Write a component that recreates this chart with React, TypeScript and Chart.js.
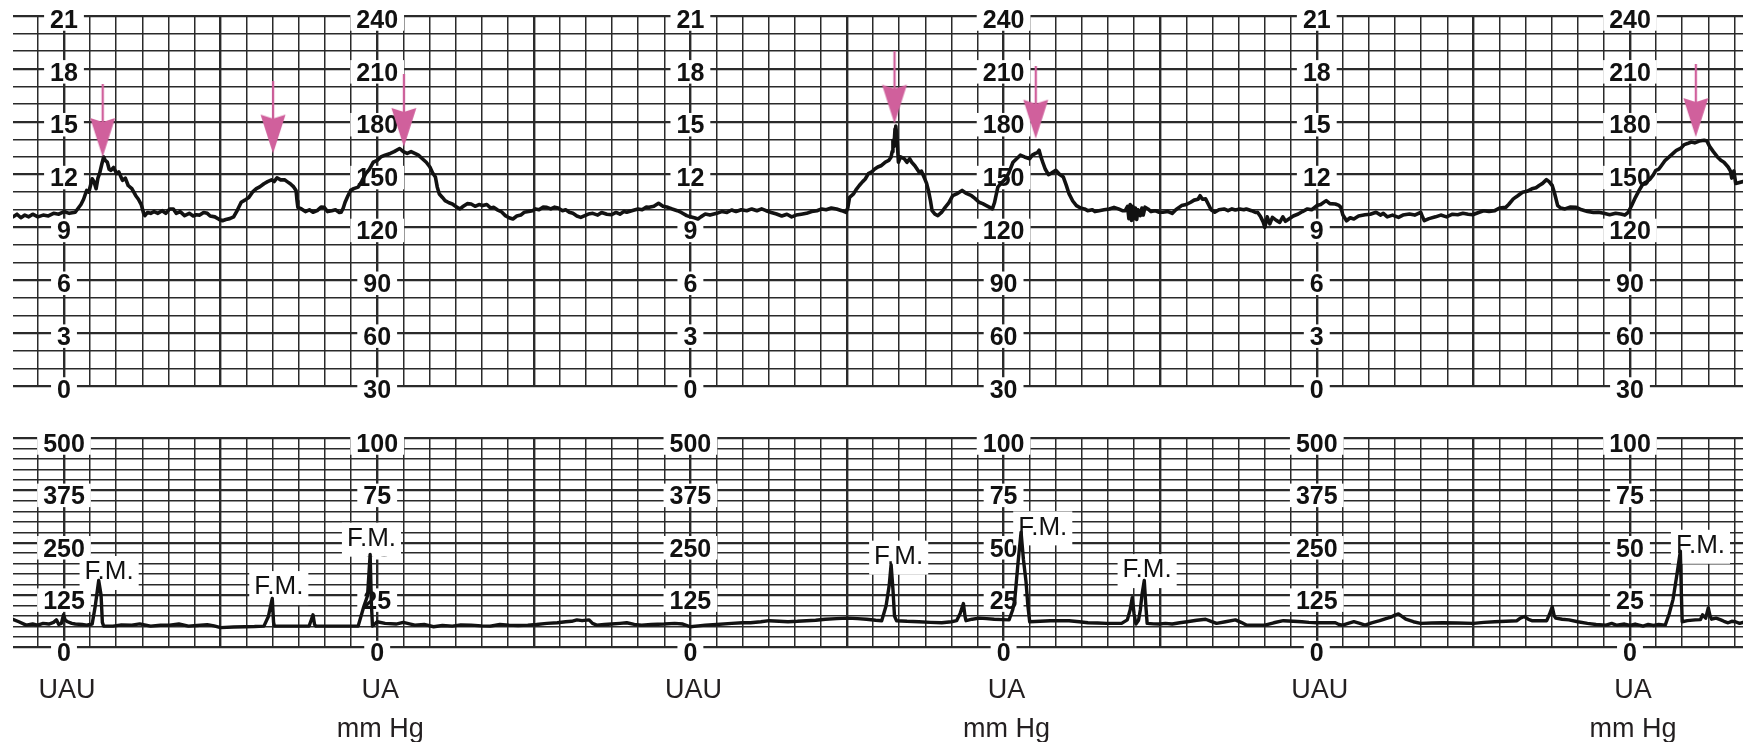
import React, { useEffect, useRef } from 'react';
import { Chart, registerables } from 'chart.js';

Chart.register(...registerables);

// ---- horizontal extent (chart paper squares) ----
const X_MIN = -1.954;
const X_MAX = 64.33;
const AXIS_COLUMNS = [0, 12, 24, 36, 48, 60];

// ---- tick labels ----
const FHR_TICK_VALUES = [240, 210, 180, 150, 120, 90, 60, 30];
const FHR_LABELS_A = ['21', '18', '15', '12', '9', '6', '3', '0'];
const FHR_LABELS_B = ['240', '210', '180', '150', '120', '90', '60', '30'];
const UA_TICK_VALUES = [100, 75, 50, 25, 0];
const UA_LABELS_A = ['500', '375', '250', '125', '0'];
const UA_LABELS_B = ['100', '75', '50', '25', '0'];
const FOOT_LABEL_A = 'UAU';
const FOOT_LABEL_B = 'UA';
const FOOT_UNIT_B = 'mm Hg';
const FM_TEXT = 'F.M.';

// ---- fetal heart rate trace ----
const FHR_X = [
  -1.95, -1.8, -1.65, -1.5, -1.35, -1.2, -1.0, -0.8, -0.6, -0.4, -0.2, 0, 0.2, 0.43, 0.55, 0.65, 0.75, 0.87, 0.95, 1.08,
  1.15, 1.23, 1.3, 1.37, 1.45, 1.52, 1.58, 1.66, 1.73, 1.8, 1.9, 2.02, 2.1, 2.24, 2.35, 2.46, 2.6, 2.75, 2.85, 2.96,
  3.05, 3.1, 3.2, 3.32, 3.45, 3.6, 3.76, 3.9, 4.05, 4.19, 4.3, 4.45, 4.62, 4.8, 4.95, 5.06, 5.2, 5.35, 5.49, 5.6,
  5.78, 5.95, 6.07, 6.2, 6.35, 6.5, 6.65, 6.79, 6.93, 7.08, 7.22, 7.37, 7.5, 7.66, 7.8, 7.95, 8.05, 8.16, 8.3, 8.45,
  8.55, 8.67, 8.8, 8.89, 8.93, 8.96, 9.1, 9.25, 9.4, 9.54, 9.7, 9.85, 9.97, 10.1, 10.26, 10.4, 10.55, 10.62, 10.7, 10.77,
  10.88, 10.98, 11.1, 11.27, 11.4, 11.56, 11.7, 11.85, 12.0, 12.14, 12.3, 12.5, 12.65, 12.86, 13.0, 13.15, 13.3, 13.44, 13.58, 13.73,
  13.88, 14.02, 14.12, 14.23, 14.3, 14.38, 14.5, 14.6, 14.75, 14.88, 15.0, 15.17, 15.3, 15.45, 15.6, 15.75, 15.9, 16.04, 16.2, 16.35,
  16.47, 16.6, 16.75, 16.91, 17.05, 17.2, 17.35, 17.5, 17.63, 17.8, 17.95, 18.06, 18.2, 18.35, 18.5, 18.65, 18.8, 18.93, 19.1, 19.22,
  19.36, 19.5, 19.65, 19.8, 20.09, 20.26, 20.45, 20.6, 20.8, 20.98, 21.15, 21.3, 21.45, 21.56, 21.75, 21.99, 22.15, 22.3, 22.42, 22.6,
  22.78, 22.95, 23.14, 23.3, 23.5, 23.65, 23.86, 24.0, 24.15, 24.29, 24.4, 24.57, 24.75, 25.01, 25.2, 25.4, 25.58, 25.75, 25.95, 26.16,
  26.35, 26.55, 26.73, 26.9, 27.1, 27.3, 27.5, 27.7, 27.88, 28.05, 28.25, 28.45, 28.65, 28.85, 29.03, 29.2, 29.4, 29.6, 29.8, 29.96,
  30.03, 30.1, 30.25, 30.35, 30.47, 30.6, 30.7, 30.82, 30.95, 31.05, 31.18, 31.3, 31.47, 31.6, 31.69, 31.73, 31.76, 31.8, 31.84, 31.87,
  31.92, 31.97, 32.05, 32.19, 32.3, 32.4, 32.48, 32.6, 32.76, 32.85, 32.98, 33.05, 33.12, 33.2, 33.26, 33.37, 33.48, 33.62, 33.76, 33.9,
  34.05, 34.2, 34.41, 34.55, 34.77, 34.9, 35.06, 35.2, 35.34, 35.45, 35.57, 35.65, 35.78, 35.9, 36.07, 36.2, 36.36, 36.5, 36.64, 36.8,
  37.0, 37.1, 37.22, 37.3, 37.36, 37.43, 37.5, 37.6, 37.72, 37.85, 38.0, 38.15, 38.29, 38.4, 38.51, 38.65, 38.79, 38.95, 39.1, 39.22,
  39.4, 39.5, 39.66, 39.85, 40.05, 40.23, 40.4, 40.55, 40.66, 40.75, 40.8, 40.85, 40.9, 40.95, 41.0, 41.05, 41.1, 41.15, 41.24, 41.3,
  41.35, 41.42, 41.53, 41.65, 41.8, 41.96, 42.1, 42.3, 42.46, 42.6, 42.82, 43.0, 43.17, 43.3, 43.45, 43.53, 43.62, 43.74, 43.85, 43.95,
  44.09, 44.25, 44.45, 44.6, 44.75, 44.88, 45.05, 45.2, 45.3, 45.5, 45.65, 45.73, 45.85, 45.95, 46.01, 46.1, 46.2, 46.3, 46.45, 46.58,
  46.7, 46.8, 46.93, 47.1, 47.29, 47.45, 47.64, 47.8, 48.0, 48.15, 48.36, 48.5, 48.71, 48.85, 48.92, 49.0, 49.14, 49.28, 49.42, 49.6,
  49.85, 50.05, 50.27, 50.45, 50.55, 50.7, 50.9, 51.13, 51.3, 51.55, 51.75, 51.98, 52.05, 52.12, 52.3, 52.55, 52.75, 52.97, 53.2, 53.4,
  53.6, 53.8, 53.97, 54.2, 54.39, 54.6, 54.82, 55.0, 55.24, 55.35, 55.53, 55.7, 55.88, 56.05, 56.24, 56.4, 56.52, 56.65, 56.8, 56.9,
  57.02, 57.1, 57.23, 57.35, 57.51, 57.7, 57.94, 58.15, 58.37, 58.6, 58.79, 59.0, 59.22, 59.45, 59.64, 59.8, 59.93, 60.05, 60.21, 60.35,
  60.5, 60.65, 60.78, 60.9, 60.99, 61.1, 61.2, 61.35, 61.5, 61.65, 61.78, 61.95, 62.08, 62.2, 62.35, 62.48, 62.65, 62.84, 62.95, 63.05,
  63.2, 63.35, 63.48, 63.6, 63.76, 63.85, 63.9, 63.98, 64.05, 64.33,
];
const FHR_Y = [
  126, 127.5, 125.5, 127, 126, 127.5, 126, 127, 126.5, 128, 127.5, 129, 128, 128.6, 131, 133, 136, 141, 140, 147.6,
  146, 142, 148, 151, 156, 160, 158, 157, 153, 152.4, 154, 150.5, 151.5, 146.7, 148, 143.8, 142, 138, 136, 133,
  128, 126.7, 128.5, 128, 129, 128, 129.5, 128, 130.5, 130.5, 128, 129, 126.7, 128, 126.5, 127.2, 127, 128.5, 128, 126.5,
  126, 124.5, 123.8, 124.5, 125, 126, 130, 134.3, 135.5, 137, 140, 142, 143, 144.8, 146, 147, 146, 148.2, 147, 147,
  146, 144.8, 143, 141, 135, 131.4, 130.5, 129, 130, 128.6, 129.5, 131.5, 131.4, 129, 129.5, 130, 128.5, 128.6, 131, 134.3,
  138, 141, 142, 142.9, 146, 150.5, 153, 157, 158, 160, 161, 162, 163, 164.8, 163, 162, 163, 162, 161, 159,
  157, 154.3, 151, 148.6, 143, 139, 137, 135.2, 134, 133.3, 132, 130.5, 132, 133.5, 133.3, 132, 133, 132.4, 133, 131,
  131.4, 130, 129, 126.7, 125.5, 124.8, 126.5, 127, 128.6, 129, 129.5, 130.5, 130, 131.5, 131.4, 130.5, 131.5, 131, 129.5, 130,
  128.6, 128, 126.5, 125.7, 127.6, 128, 127, 128.5, 127.5, 127.2, 128.5, 127.5, 129, 128.6, 129.5, 130.5, 130, 131.5, 131.4, 132,
  133.7, 132, 131.4, 130.5, 129.5, 128.5, 126.7, 126, 125.5, 124.8, 126, 127.6, 127, 128, 129, 128.5, 129.9, 129, 130, 129.5,
  130.5, 129.5, 130.5, 129.5, 128.5, 127.6, 126.5, 127.5, 126, 127, 127.5, 128, 129, 129.5, 130.5, 130, 131, 130.5, 129.5, 128.6,
  131, 137.1, 139, 141.5, 143.8, 146, 147.5, 150.5, 151.5, 153, 154.3, 155, 157.1, 158, 160, 163, 169.5, 166, 176, 177.5,
  170, 157, 160, 159, 157, 159, 157, 155, 151.4, 152, 147.6, 145, 141, 135, 129.5, 127.5, 126.7, 128.5, 131.4, 134,
  138, 139, 141, 139.5, 138, 136.5, 134.3, 133.5, 132.4, 131.5, 130.5, 134, 142.9, 145, 147.6, 151, 157, 159, 161, 160,
  159, 161, 162, 162.5, 163.8, 160, 157, 153, 150, 151, 152.4, 150, 148.6, 144, 139, 135, 132.4, 131, 130.5, 129.5,
  130, 129, 129.5, 130, 130.5, 131.4, 130.5, 129.5, 129.5, 132, 125, 133, 124, 132, 125, 131, 124.5, 130, 126.7, 131,
  127, 131.5, 130.5, 129, 129.5, 128.6, 128.6, 129, 128, 130, 132.4, 133, 134.3, 135.5, 136, 138, 136, 136.2, 133, 130,
  128.6, 130, 130.5, 129.5, 130.5, 129.9, 130.5, 130, 130.5, 129.5, 128.5, 128.6, 126, 123, 120, 126, 122, 125.7, 124, 122.9,
  126, 123.5, 124.8, 126.5, 127.6, 129, 130.5, 130, 132.4, 133, 135.2, 133.5, 133.3, 132.5, 131.4, 127, 123.8, 125.5, 124.8, 126.5,
  127.2, 127.5, 128.6, 127, 128, 126, 127, 125.7, 127, 127.6, 127, 128.6, 126, 123.8, 125, 126, 127, 126, 127.5, 127.2,
  128, 127.5, 127.2, 128.5, 129.5, 129, 129.5, 131, 131.4, 133, 136.2, 138, 140, 140.5, 141.9, 142.5, 143.8, 145, 147.1, 146,
  143.8, 140, 132.4, 131, 130.5, 131.5, 131.4, 130, 129.1, 128.5, 128.6, 128, 127.2, 128, 127.6, 127, 128.6, 132, 137.1, 141,
  144.8, 146, 147.6, 150, 152.4, 153, 155, 158.1, 160, 162, 163.8, 165, 167, 167.6, 168.5, 168, 169, 169.5, 169, 166,
  162.9, 160, 158.1, 157, 154.3, 152, 148, 152, 145, 146,
];

// ---- arrows (tip positions) ----
const ARROW_X = [1.48, 8.01, 13.02, 31.82, 37.23, 62.52];
const ARROW_Y = [160, 161.9, 165.7, 178.9, 170.4, 171.3];

// ---- uterine activity trace ----
const UA_X = [
  -1.96, -1.73, -1.45, -1.2, -1.01, -0.8, -0.58, -0.4, -0.29, -0.2, -0.1, -0.02, 0.05, 0.14, 0.3, 0.43, 0.7, 0.87, 1.08, 1.2,
  1.33, 1.42, 1.47, 1.52, 1.88, 2.2, 2.6, 2.9, 3.32, 3.7, 4.05, 4.4, 4.77, 5.1, 5.49, 5.75, 6.0, 6.5, 6.94, 7.3,
  7.66, 7.83, 7.98, 8.03, 8.06, 8.5, 8.82, 9.39, 9.47, 9.54, 9.6, 9.65, 10.1, 10.55, 11.0, 11.27, 11.49, 11.63, 11.73, 11.78,
  11.82, 12.0, 12.3, 12.72, 13.0, 13.44, 13.8, 14.16, 14.5, 14.88, 15.2, 15.6, 16.0, 16.33, 16.7, 17.05, 17.4, 17.77, 18.1, 18.5,
  18.9, 19.22, 19.45, 19.65, 19.85, 20.12, 20.25, 20.41, 20.7, 20.98, 21.3, 21.56, 21.85, 22.13, 22.5, 22.99, 23.4, 23.71, 24.0, 24.3,
  24.57, 25.0, 25.58, 26.0, 26.3, 26.7, 27.02, 27.4, 27.74, 28.1, 28.45, 28.8, 29.17, 29.6, 30.03, 30.4, 30.75, 31.1, 31.33, 31.5,
  31.62, 31.69, 31.76, 31.82, 31.9, 32.3, 32.76, 33.2, 33.63, 34.0, 34.2, 34.34, 34.46, 34.52, 34.56, 34.8, 35.06, 35.35, 35.64, 35.95,
  36.21, 36.35, 36.43, 36.55, 36.67, 36.76, 36.86, 36.93, 37.0, 37.4, 37.79, 38.15, 38.51, 38.9, 39.23, 39.6, 39.95, 40.25, 40.52, 40.74,
  40.85, 40.93, 41.0, 41.07, 41.17, 41.24, 41.3, 41.39, 41.45, 41.5, 41.75, 41.96, 42.2, 42.46, 42.75, 43.03, 43.4, 43.74, 43.95, 44.16,
  44.5, 44.88, 45.1, 45.3, 45.65, 46.01, 46.35, 46.72, 47.1, 47.43, 47.7, 48.0, 48.35, 48.71, 48.85, 48.99, 49.2, 49.42, 49.65, 49.85,
  50.1, 50.41, 50.65, 50.84, 51.0, 51.13, 51.25, 51.41, 51.7, 51.98, 52.4, 52.83, 53.4, 54.0, 54.4, 54.82, 55.25, 55.67, 55.8, 55.95,
  56.1, 56.24, 56.5, 56.81, 56.92, 57.02, 57.1, 57.16, 57.4, 57.66, 58.0, 58.37, 58.7, 59.08, 59.3, 59.5, 59.79, 60.0, 60.2, 60.5,
  60.7, 60.9, 61.1, 61.35, 61.5, 61.65, 61.8, 61.93, 61.97, 62.0, 62.2, 62.5, 62.7, 62.78, 62.9, 63.0, 63.07, 63.13, 63.3, 63.48,
  63.6, 63.76, 63.9, 64.04, 64.2, 64.33,
];
const UA_Y = [
  13.5, 12.3, 10.7, 11.2, 10.7, 11.5, 11.2, 12, 13.2, 11, 11.5, 15.6, 13, 12.3, 11.5, 11.2, 11, 10.7, 11.2, 20,
  32, 25, 12, 10.2, 10.2, 10.8, 10.7, 11.3, 10.2, 10.6, 10.7, 11.2, 10.2, 10.5, 10.9, 10.3, 9.5, 9.8, 9.9, 10,
  10.2, 14.8, 23.4, 12, 10.2, 10.2, 10.2, 10.2, 13, 15.6, 11, 10.2, 10.2, 10.2, 10.2, 10.2, 19.7, 24.7, 44.4, 20,
  10.2, 12.3, 11.5, 11.2, 12, 10.7, 11, 9.9, 10.5, 10.2, 10.8, 10.7, 10.3, 10.2, 11, 10.7, 10.5, 10.7, 11, 11.5,
  11.8, 12.3, 12.5, 13.2, 12.8, 13.2, 11.5, 10.7, 11, 11.2, 11.5, 11.8, 11, 10.7, 11, 11.2, 11.5, 11.2, 9.9, 10.3,
  10.7, 11, 11.5, 11.8, 11.8, 12.3, 12.8, 12.5, 12.3, 12.5, 12.8, 13, 13.5, 13.8, 14, 13.8, 13.5, 13, 12.8, 20,
  30, 39.5, 28, 15, 12.8, 12.5, 12.3, 12, 11.8, 12.3, 12.8, 16.4, 21, 15, 12.8, 13.5, 14, 13.8, 13.5, 13.3,
  13.2, 18, 23, 40, 55, 42, 31.3, 20, 12.3, 12.5, 12.8, 12.8, 12.8, 12.3, 11.8, 11.7, 11.5, 11.5, 11.5, 13.2,
  18, 23.8, 16, 11.2, 13, 18, 25, 32, 20, 11.5, 11.3, 11.2, 11.5, 11.2, 11.8, 12.3, 13, 13.5, 12.5, 11.5,
  12.3, 13.2, 12, 10.7, 10.7, 10.7, 11.8, 12.8, 12.5, 12.3, 12, 11.8, 11.8, 11.8, 11, 10.7, 11.5, 12.3, 11.5, 10.7,
  11.8, 12.8, 13.8, 14.5, 15.5, 16, 15, 13.5, 12.3, 11.5, 11.7, 11.8, 11.7, 11.5, 12, 12.3, 12.5, 12.8, 14, 14.8,
  13.5, 12.8, 12.8, 12.8, 16, 19.4, 15, 14, 13.5, 13.2, 12.3, 11.5, 11, 10.7, 11.5, 10.6, 11.2, 10.5, 11.2, 10.2,
  11, 10.5, 11, 10.7, 16, 23, 35, 46, 25, 12.3, 12.8, 13.2, 13.3, 15.6, 14, 18.9, 15, 13.5, 14, 13.2,
  12.5, 11.8, 12.5, 12.3, 11.5, 12,
];

// ---- F.M. annotations ----
const FM_X = [1.73, 8.23, 11.78, 31.98, 37.5, 41.5, 62.7];
const FM_Y = [37, 29.8, 52.9, 44.3, 58.3, 37.9, 49.5];

// ---- styling ----
const GRID_COLOR = '#2a2a2a';
const TRACE_COLOR = '#121212';
const ARROW_COLOR = '#d0609c';
const LABEL_FONT = 'bold 25px "Liberation Sans", Arial, sans-serif';
const TEXT_FONT = '26px "Liberation Sans", Arial, sans-serif';
const FOOT_FONT = '27px "Liberation Sans", Arial, sans-serif';

function gridValues(from: number, to: number, step: number): number[] {
  const out: number[] = [];
  for (let v = from; v <= to + 1e-9; v += step) out.push(Math.round(v * 1000) / 1000);
  return out;
}

function makeArrow(): HTMLCanvasElement {
  const c = document.createElement('canvas');
  c.width = 28;
  c.height = 146;
  const g = c.getContext('2d')!;
  g.fillStyle = ARROW_COLOR;
  g.fillRect(12.9, 0, 2.3, 38);
  g.beginPath();
  g.moveTo(1.5, 34);
  g.lineTo(14, 38);
  g.lineTo(26.5, 34);
  g.lineTo(14, 73);
  g.closePath();
  g.fill();
  return c;
}

function drawColumnLabels(chart: any, values: number[], setA: string[], setB: string[], capH: number, offset: number) {
  const ctx = chart.ctx;
  const xs = chart.scales.x;
  const ys = chart.scales.y;
  ctx.save();
  ctx.font = LABEL_FONT;
  ctx.textAlign = 'center';
  ctx.textBaseline = 'alphabetic';
  AXIS_COLUMNS.forEach((col, i) => {
    const labels = i % 2 === 0 ? setA : setB;
    const px = xs.getPixelForValue(col);
    values.forEach((v, j) => {
      const py = ys.getPixelForValue(v) + offset;
      const t = labels[j];
      const w = ctx.measureText(t).width;
      ctx.fillStyle = '#ffffff';
      ctx.fillRect(px - w / 2 - 6, py - capH / 2 - 3, w + 12, capH + 6);
      ctx.fillStyle = '#111111';
      ctx.fillText(t, px, py + capH / 2);
    });
  });
  ctx.restore();
}

function xScale() {
  const xs = gridValues(-1, 64, 1);
  return {
    type: 'linear' as const,
    min: X_MIN,
    max: X_MAX,
    afterBuildTicks: (s: any) => {
      s.ticks = xs.map((v) => ({ value: v }));
    },
    ticks: { display: false, autoSkip: false },
    grid: {
      drawTicks: false,
      color: GRID_COLOR,
      lineWidth: (c: any) => (c.tick && Math.abs(c.tick.value % 6) < 1e-6 ? 2.4 : 1.5),
    },
    border: { display: false },
  };
}

function yScale(min: number, max: number, step: number, major: number) {
  const ys = gridValues(min, max, step);
  return {
    type: 'linear' as const,
    min,
    max,
    afterBuildTicks: (s: any) => {
      s.ticks = ys.map((v) => ({ value: v }));
    },
    ticks: { display: false, autoSkip: false },
    grid: {
      drawTicks: false,
      color: GRID_COLOR,
      lineWidth: (c: any) => (c.tick && Math.abs((c.tick.value - min) % major) < 1e-6 ? 2.2 : 1.5),
    },
    border: { display: false },
  };
}

export default function App() {
  const topRef = useRef<HTMLCanvasElement>(null);
  const botRef = useRef<HTMLCanvasElement>(null);

  useEffect(() => {
    document.body.style.margin = '0';
    const arrowImg = makeArrow();
    const fhr = FHR_X.map((x, i) => ({ x, y: FHR_Y[i] }));
    const arrows = ARROW_X.map((x, i) => ({ x, y: ARROW_Y[i] }));
    const ua = UA_X.map((x, i) => ({ x, y: UA_Y[i] }));

    const common = {
      responsive: false,
      maintainAspectRatio: false,
      animation: false as const,
      devicePixelRatio: 1,
      events: [] as any[],
      plugins: { legend: { display: false }, tooltip: { enabled: false } },
    };

    const top = new Chart(topRef.current!, {
      type: 'line',
      data: {
        datasets: [
          {
            type: 'scatter',
            data: arrows,
            pointStyle: arrowImg as any,
            pointRadius: 10,
            showLine: false,
            order: 0,
            clip: false as any,
          } as any,
          {
            type: 'line',
            data: fhr,
            borderColor: TRACE_COLOR,
            borderWidth: 3.6,
            pointRadius: 0,
            tension: 0,
            borderJoinStyle: 'round',
            borderCapStyle: 'round',
            order: 1,
          } as any,
        ],
      },
      options: {
        ...common,
        layout: { padding: { left: 13, right: 0, top: 16, bottom: 14 }, autoPadding: false },
        scales: { x: xScale(), y: yScale(30, 240, 10, 30) },
      } as any,
      plugins: [
        {
          id: 'fhrLabels',
          beforeDatasetsDraw(chart: any) {
            drawColumnLabels(chart, FHR_TICK_VALUES, FHR_LABELS_A, FHR_LABELS_B, 17.5, 3);
          },
        },
      ],
    });

    const bot = new Chart(botRef.current!, {
      type: 'line',
      data: {
        datasets: [
          {
            type: 'line',
            data: ua,
            borderColor: TRACE_COLOR,
            borderWidth: 3.4,
            pointRadius: 0,
            tension: 0,
            borderJoinStyle: 'round',
            borderCapStyle: 'round',
          } as any,
        ],
      },
      options: {
        ...common,
        layout: { padding: { left: 13, right: 0, top: 18, bottom: 94.5 }, autoPadding: false },
        scales: { x: xScale(), y: yScale(0, 100, 5, 25) },
      } as any,
      plugins: [
        {
          id: 'uaLabels',
          beforeDatasetsDraw(chart: any) {
            drawColumnLabels(chart, UA_TICK_VALUES, UA_LABELS_A, UA_LABELS_B, 17.5, 5);
            const ctx = chart.ctx;
            const xs = chart.scales.x;
            const ys = chart.scales.y;
            ctx.save();
            ctx.font = TEXT_FONT;
            ctx.textAlign = 'center';
            ctx.textBaseline = 'alphabetic';
            FM_X.forEach((fx, i) => {
              const px = xs.getPixelForValue(fx);
              const py = ys.getPixelForValue(FM_Y[i]);
              const w = ctx.measureText(FM_TEXT).width;
              ctx.fillStyle = '#ffffff';
              ctx.fillRect(px - w / 2 - 5, py - 14, w + 10, 34);
              ctx.fillStyle = '#111111';
              ctx.fillText(FM_TEXT, px, py + 9.3);
            });
            ctx.restore();
          },
          afterDraw(chart: any) {
            const ctx = chart.ctx;
            const xs = chart.scales.x;
            const bottom = chart.chartArea.bottom;
            ctx.save();
            ctx.font = FOOT_FONT;
            ctx.textAlign = 'center';
            ctx.textBaseline = 'alphabetic';
            ctx.fillStyle = '#231f20';
            AXIS_COLUMNS.forEach((col, i) => {
              const px = xs.getPixelForValue(col) + 3;
              if (i % 2 === 0) {
                ctx.fillText(FOOT_LABEL_A, px, bottom + 50.5);
              } else {
                ctx.fillText(FOOT_LABEL_B, px, bottom + 50.5);
                ctx.fillText(FOOT_UNIT_B, px, bottom + 89.5);
              }
            });
            ctx.restore();
          },
        },
      ],
    });

    return () => {
      top.destroy();
      bot.destroy();
    };
  }, []);

  return (
    <div style={{ position: 'relative', width: 1743, height: 742, background: '#ffffff', overflow: 'hidden' }}>
      <canvas
        ref={topRef}
        width={1743}
        height={400}
        style={{ position: 'absolute', left: 0, top: 0, width: 1743, height: 400 }}
      />
      <canvas
        ref={botRef}
        width={1743}
        height={322}
        style={{ position: 'absolute', left: 0, top: 420, width: 1743, height: 322 }}
      />
    </div>
  );
}
